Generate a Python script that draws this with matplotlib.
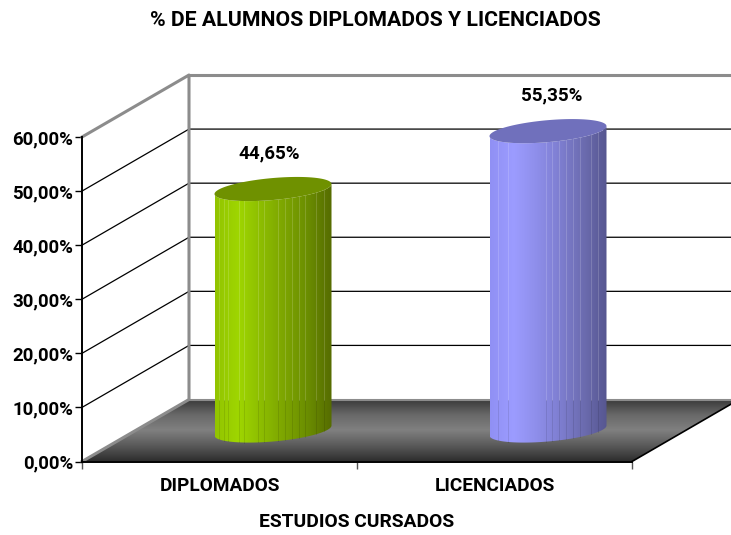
import numpy as np
import matplotlib
matplotlib.use('Agg')
import matplotlib.pyplot as plt
from matplotlib.colors import LinearSegmentedColormap
from matplotlib.patches import Polygon

categories = ['DIPLOMADOS', 'LICENCIADOS']
values = [44.65, 55.35]
value_labels = ['44,65%', '55,35%']
y_ticks = [0, 10, 20, 30, 40, 50, 60]
y_tick_labels = ['0,00%', '10,00%', '20,00%', '30,00%', '40,00%', '50,00%', '60,00%']
title = '% DE ALUMNOS DIPLOMADOS Y LICENCIADOS'
x_title = 'ESTUDIOS CURSADOS'

body_colors = [['#92C400', '#9FD600', '#8CBC00', '#7CA400', '#6A8C00', '#566C00'],
               ['#9090F4', '#9C9CFF', '#8E8EEA', '#7E7ED0', '#6C6CB0', '#565690']]
top_colors = ['#6F9100', '#7070BC']
stripes = [[.04, .08, .115, .21, .25, .37, .42, .54, .60, .66, .72, .77, .87, .94],
           [.07, .16, .48, .535, .595, .655, .71, .77, .87, .93]]
label_shift = [-2.5, 2.5]

plt.rcParams['font.family'] = ['Roboto', 'Liberation Sans']
plt.rcParams['font.weight'] = 'bold'
plt.rcParams['axes.labelweight'] = 'bold'

fig = plt.figure(figsize=(7.31, 5.35), dpi=100)
ax = fig.add_axes([82 / 731, 73.5 / 535, 550 / 731, 324.5 / 535])
ax.set_xlim(0, 2)
ax.set_ylim(0, 60)

# 3D look: pixel size in data units, depth of the box
px_x = 2 / 550
px_y = 60 / 324.5
dx = 107 * px_x
dy = 62 * px_y
right = 2 + dx
grey = '#8C8C8C'


def shift(x, v, depth):
    return x + depth * dx, v + depth * dy


def gradient(colors, extent, clip, horizontal=False, n=256):
    cmap = LinearSegmentedColormap.from_list('g', colors)
    g = np.linspace(0, 1, n)
    g = g.reshape(1, -1) if horizontal else g.reshape(-1, 1)
    im = ax.imshow(g, cmap=cmap, extent=extent, aspect='auto', origin='lower',
                   interpolation='bilinear', zorder=3 if horizontal else 1)
    im.set_clip_box(fig.bbox)
    im.set_clip_path(clip)
    return im


# floor
floor = Polygon([shift(0, 0, 0), shift(2, 0, 0), shift(2, 0, 1), shift(0, 0, 1)],
                closed=True, transform=ax.transData)
gradient(['#2E2E2E', '#5A5A5A', '#808080', '#686868', '#383838'], (0, right, 0, dy), floor)

# walls and grid
for v in y_ticks[1:-1]:
    xs, ys = zip(shift(0, v, 0), shift(0, v, 1), (right, v + dy))
    ax.plot(xs, ys, color='black', lw=0.9, clip_on=False, zorder=2)
xs, ys = zip(shift(0, 0, 0), shift(0, 0, 1), shift(0, 60, 1), shift(0, 60, 0))
ax.plot(xs, ys, color=grey, lw=2.2, clip_on=False, zorder=2)
ax.plot([shift(0, 60, 1)[0], right], [60 + dy, 60 + dy], color=grey, lw=2.2, clip_on=False, zorder=2)
ax.plot([shift(0, 0, 1)[0], right], [dy, dy], color=grey, lw=1.5, clip_on=False, zorder=2)
xs, ys = zip(shift(2, 0, 0), shift(2, 0, 1))
ax.plot(xs, ys, color='black', lw=1.2, clip_on=False, zorder=2)

# cylinders
rx = 58.5 * px_x
ry = 11 * px_y
tilt = 5 * px_y
t = np.linspace(0, 2 * np.pi, 181)

for i, val in enumerate(values):
    cx, base = shift(i + 0.5, 0, 0.5)
    top = base + val
    low = np.linspace(np.pi, 2 * np.pi, 91)
    bx = cx + rx * np.cos(low)
    by_low = ry * np.sin(low) + tilt * np.cos(low)
    outline = np.r_[np.c_[bx, base + by_low], np.c_[bx, top + by_low][::-1]]
    body = Polygon(outline, closed=True, transform=ax.transData)
    gradient(body_colors[i], (cx - rx, cx + rx, base - 3 * ry, top + 3 * ry), body, horizontal=True)

    # facets: gaps show what is behind, white wall or dark floor
    for s in stripes[i]:
        a = np.arccos(2 * s - 1)
        off = -ry * np.sin(a) + tilt * (2 * s - 1)
        x = cx - rx + 2 * rx * s
        ax.plot([x, x], [dy, top + off], color='white', alpha=0.16, lw=0.7, clip_on=False, zorder=4)
        ax.plot([x, x], [base + off, dy], color='black', alpha=0.1, lw=0.7, clip_on=False, zorder=4)

    ax.fill(cx + rx * np.cos(t), top + ry * np.sin(t) + tilt * np.cos(t),
            color=top_colors[i], clip_on=False, zorder=5, lw=0)
    ax.annotate(value_labels[i], (cx, top), xytext=(label_shift[i], 25.5), textcoords='offset points',
                ha='center', va='center', fontsize=13.5, zorder=6, annotation_clip=False)

# axes
for side in ['top', 'right']:
    ax.spines[side].set_visible(False)
for side in ['left', 'bottom']:
    ax.spines[side].set_linewidth(1.4)
    ax.spines[side].set_zorder(7)
ax.set_facecolor('none')
ax.set_yticks(y_ticks)
ax.set_yticklabels(y_tick_labels, fontsize=13.4)
ax.tick_params(axis='y', length=5, width=1, pad=1.5)
ax.set_xticks([0, 1, 2])
ax.set_xticklabels([])
ax.set_xticks([0.5, 1.5], labels=categories, minor=True, fontsize=13.7)
ax.tick_params(axis='x', which='major', length=5, width=1, color='#555555')
ax.tick_params(axis='x', which='minor', length=0, pad=11)
ax.set_xlabel(x_title, fontsize=13.9, labelpad=13)
ax.set_xlim(0, 2)
ax.set_ylim(0, 60)

fig.text(375 / 731, 1 - 21 / 535, title, ha='center', va='center', fontsize=15.3)

fig.savefig('out.png', dpi=100)
